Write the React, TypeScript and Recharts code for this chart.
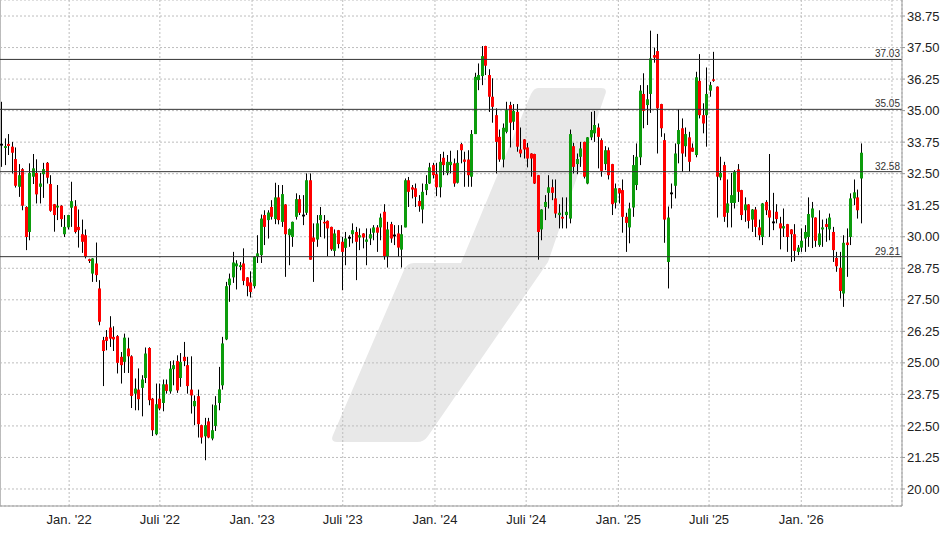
import React from 'react';
import { ComposedChart, Bar, XAxis, YAxis, CartesianGrid, ReferenceLine } from 'recharts';

// Weekly candles, first week dated 2021-08-20
const FIRST_WEEK = '2021-08-20';

const OPEN = [
  33.65, 33.52, 33.68, 33.57, 33.08, 31.98, 32.68, 31.18, 30.19, 32.38,
  32.53, 31.98, 32.48, 32.93, 32.09, 31.29, 31.16, 31.23, 30.10, 30.37,
  31.15, 31.21, 30.39, 30.10, 30.06, 29.11, 28.54, 28.94, 27.95, 25.90,
  26.03, 26.40, 26.03, 26.06, 25.24, 25.04, 25.57, 25.26, 23.78, 23.94,
  24.01, 24.40, 25.59, 23.58, 22.17, 23.58, 23.41, 24.15, 23.87, 24.75,
  25.07, 24.40, 25.24, 24.91, 23.94, 23.28, 23.68, 22.53, 22.09, 22.68,
  22.00, 22.50, 23.41, 24.11, 25.93, 28.08, 28.39, 28.83, 28.80, 28.94,
  28.39, 28.19, 28.04, 29.20, 29.27, 30.86, 30.66, 31.18, 30.70, 31.56,
  30.59, 31.28, 30.06, 29.99, 30.79, 31.49, 30.84, 30.95, 32.24, 29.97,
  29.89, 30.66, 30.59, 30.63, 30.39, 29.44, 30.26, 29.80, 29.56, 29.96,
  30.10, 30.19, 29.97, 30.13, 29.80, 29.93, 30.16, 30.37, 30.37, 30.99,
  29.23, 30.50, 30.05, 30.13, 29.49, 30.37, 32.24, 31.96, 31.92, 31.42,
  31.08, 31.85, 32.11, 32.84, 32.48, 31.96, 33.13, 32.53, 32.84, 32.91,
  32.14, 33.67, 33.06, 33.06, 32.38, 34.07, 36.21, 36.37, 37.56, 36.41,
  35.55, 34.82, 33.96, 33.06, 34.16, 35.22, 34.56, 34.95, 33.46, 33.86,
  33.54, 33.30, 33.28, 32.44, 30.29, 31.18, 31.74, 31.96, 31.52, 30.86,
  30.79, 30.86, 30.72, 33.59, 32.88, 33.17, 33.76, 32.11, 33.94, 34.10,
  34.33, 33.83, 32.88, 33.43, 32.88, 31.35, 31.92, 31.85, 30.79, 30.37,
  31.16, 32.05, 33.15, 35.66, 35.22, 35.66, 37.20, 37.36, 35.26, 33.83,
  29.00, 31.72, 32.02, 33.67, 34.30, 33.59, 33.94, 33.53, 33.24, 36.18,
  34.82, 34.82, 35.79, 36.24, 35.95, 32.35, 32.84, 30.95, 31.34, 31.34,
  32.67, 31.85, 31.05, 31.28, 30.68, 31.08, 30.37, 29.99, 31.38, 31.05,
  30.57, 30.99, 30.53, 30.33, 30.50, 30.29, 30.10, 29.40, 29.57, 29.93,
  29.99, 30.76, 30.76, 29.67, 30.29, 30.50, 30.29, 30.19, 29.16, 28.77,
  27.75, 29.77, 29.99, 31.52, 31.56, 32.31,
];

const HIGH = [
  35.35, 33.90, 34.07, 33.76, 33.54, 32.88, 32.72, 31.21, 32.91, 33.28,
  33.07, 32.53, 32.93, 32.96, 32.44, 31.30, 32.05, 31.25, 30.86, 30.87,
  32.18, 31.45, 31.08, 30.68, 30.29, 29.13, 29.15, 29.77, 28.28, 26.03,
  26.30, 26.85, 26.45, 26.10, 25.43, 26.16, 26.00, 25.30, 24.38, 24.78,
  24.51, 25.61, 25.62, 23.61, 24.18, 24.18, 24.34, 24.34, 25.07, 25.10,
  25.30, 25.39, 25.83, 25.24, 25.26, 23.71, 23.94, 22.55, 22.82, 22.82,
  23.35, 23.68, 24.84, 26.03, 28.21, 28.54, 29.40, 29.07, 29.00, 29.54,
  28.40, 28.63, 29.23, 30.06, 30.88, 31.05, 31.05, 31.45, 32.14, 32.05,
  32.05, 31.29, 30.33, 30.60, 31.72, 31.65, 31.65, 32.51, 32.51, 30.53,
  30.86, 31.18, 30.86, 30.65, 30.40, 30.29, 30.27, 29.99, 30.19, 30.06,
  30.53, 30.39, 30.33, 30.14, 30.33, 30.33, 30.46, 30.46, 30.92, 31.29,
  30.59, 30.59, 30.46, 30.46, 30.46, 32.31, 32.37, 32.05, 32.11, 31.65,
  32.11, 32.44, 32.93, 32.93, 32.93, 33.28, 33.37, 33.24, 33.41, 33.10,
  33.43, 33.72, 33.37, 33.43, 34.23, 36.50, 36.87, 37.56, 37.57, 36.64,
  36.28, 35.09, 34.25, 34.49, 35.35, 35.35, 35.26, 35.26, 34.33, 33.87,
  33.72, 33.31, 33.29, 32.45, 31.09, 31.65, 32.44, 32.27, 32.27, 31.29,
  31.56, 31.56, 34.25, 33.72, 33.30, 33.76, 33.77, 33.95, 34.95, 34.99,
  34.49, 33.90, 33.59, 33.54, 32.89, 32.11, 31.93, 32.27, 30.95, 31.35,
  33.24, 33.70, 36.01, 36.48, 36.01, 38.17, 37.50, 38.04, 35.27, 34.10,
  31.20, 32.11, 33.70, 35.05, 34.69, 34.33, 34.16, 33.70, 36.54, 37.24,
  35.29, 36.71, 36.14, 37.33, 35.96, 33.17, 32.97, 32.27, 32.53, 32.64,
  32.88, 31.86, 31.56, 31.29, 31.10, 31.18, 30.68, 31.34, 31.45, 33.28,
  31.74, 31.29, 30.79, 31.12, 30.51, 30.30, 30.50, 29.67, 30.33, 30.46,
  31.56, 31.38, 30.77, 31.05, 30.68, 30.72, 30.92, 30.39, 29.40, 29.40,
  30.06, 30.33, 31.72, 32.27, 31.87, 33.70,
];

const LOW = [
  32.77, 32.84, 33.24, 32.51, 31.95, 31.58, 31.05, 29.47, 29.86, 32.09,
  31.32, 31.32, 31.54, 32.11, 30.99, 30.20, 30.66, 30.39, 29.99, 30.29,
  30.39, 30.13, 29.57, 29.36, 29.14, 28.96, 28.21, 28.21, 26.49, 24.08,
  25.50, 25.63, 25.47, 24.58, 24.18, 24.60, 24.60, 23.21, 23.12, 23.12,
  22.88, 24.20, 23.32, 22.10, 22.13, 23.12, 23.08, 23.78, 23.78, 24.11,
  23.81, 24.05, 24.87, 23.78, 22.99, 22.53, 22.04, 21.80, 21.14, 22.01,
  21.93, 22.30, 23.12, 23.94, 25.90, 27.42, 28.17, 27.91, 28.67, 28.08,
  27.64, 27.59, 27.95, 28.96, 28.96, 29.67, 29.93, 30.68, 30.50, 30.49,
  30.39, 28.41, 28.87, 29.60, 30.68, 30.86, 30.46, 30.86, 29.09, 28.21,
  29.60, 29.99, 29.93, 29.23, 29.44, 29.23, 29.54, 27.88, 28.87, 29.60,
  29.74, 28.28, 29.47, 29.54, 28.87, 29.67, 29.86, 29.40, 29.86, 29.09,
  28.78, 29.76, 29.67, 29.20, 28.78, 30.37, 31.18, 31.52, 31.18, 30.99,
  30.53, 31.65, 32.09, 32.31, 31.61, 31.56, 32.44, 32.44, 32.51, 31.98,
  32.11, 32.91, 31.98, 31.98, 31.98, 34.07, 35.81, 36.01, 36.41, 34.95,
  34.52, 32.51, 32.97, 32.75, 34.10, 33.54, 34.23, 33.37, 33.15, 33.10,
  32.75, 32.38, 32.09, 29.09, 29.86, 30.66, 31.12, 31.45, 30.75, 30.33,
  30.33, 30.33, 30.53, 32.51, 32.48, 32.77, 32.31, 32.08, 33.83, 33.76,
  32.71, 32.38, 32.64, 32.27, 30.86, 31.12, 31.32, 30.16, 29.40, 29.74,
  30.79, 31.85, 32.84, 34.30, 34.43, 34.91, 36.90, 33.30, 33.96, 29.76,
  27.95, 31.12, 31.52, 32.91, 32.57, 33.17, 32.57, 33.37, 33.15, 34.69,
  34.10, 33.57, 35.55, 36.14, 30.76, 32.24, 30.59, 30.37, 30.37, 31.12,
  31.38, 30.66, 30.59, 30.33, 30.19, 29.99, 29.86, 29.67, 30.86, 29.99,
  30.26, 30.53, 29.50, 29.99, 29.40, 29.00, 29.04, 29.27, 29.40, 29.40,
  29.60, 29.55, 29.60, 29.60, 29.60, 29.80, 29.86, 29.00, 28.61, 27.55,
  27.22, 28.41, 29.67, 31.25, 30.72, 30.53,
];

const CLOSE = [
  33.65, 33.59, 33.60, 33.33, 32.02, 32.44, 31.23, 29.99, 32.53, 32.71,
  31.68, 32.11, 32.68, 32.34, 31.03, 30.86, 31.23, 30.70, 30.39, 30.86,
  31.41, 30.19, 30.26, 29.80, 29.20, 29.04, 29.14, 28.48, 26.63, 25.47,
  25.87, 25.96, 25.93, 25.00, 24.91, 26.00, 25.26, 23.69, 23.98, 23.56,
  24.34, 25.37, 23.52, 22.33, 23.36, 23.19, 24.15, 23.89, 24.77, 24.91,
  23.91, 25.04, 25.07, 24.08, 23.71, 23.49, 22.57, 22.04, 22.53, 22.04,
  22.33, 23.32, 23.95, 25.77, 28.04, 28.34, 28.98, 28.94, 28.87, 28.25,
  28.04, 27.81, 29.20, 29.34, 30.72, 30.39, 30.96, 30.79, 31.56, 30.66,
  31.69, 30.10, 30.30, 30.59, 31.49, 30.95, 30.84, 32.24, 29.09, 29.80,
  30.53, 30.86, 30.53, 30.33, 29.50, 30.13, 29.71, 29.40, 29.93, 29.96,
  30.26, 29.80, 30.06, 29.97, 29.89, 30.10, 30.37, 30.16, 30.76, 29.23,
  30.29, 29.93, 30.05, 29.57, 30.10, 32.24, 31.78, 31.87, 31.58, 31.21,
  31.78, 32.09, 32.75, 32.44, 31.96, 32.97, 32.84, 32.97, 32.97, 32.11,
  32.93, 33.43, 32.97, 32.44, 34.07, 36.34, 36.41, 37.16, 36.78, 35.55,
  35.15, 33.76, 33.06, 34.32, 35.02, 34.52, 34.99, 33.57, 33.30, 33.46,
  33.10, 33.10, 32.11, 30.19, 31.08, 31.38, 31.96, 31.74, 30.92, 30.95,
  30.72, 30.99, 34.07, 32.77, 33.08, 33.50, 32.38, 33.94, 34.23, 34.43,
  33.96, 32.61, 33.43, 32.44, 31.29, 31.92, 31.72, 30.79, 30.55, 31.12,
  32.84, 33.17, 35.79, 34.99, 35.45, 37.07, 37.10, 35.09, 34.30, 30.68,
  30.76, 31.72, 33.30, 34.23, 33.30, 34.07, 32.97, 33.37, 36.32, 34.82,
  34.49, 35.66, 36.01, 36.18, 32.38, 32.53, 30.79, 31.32, 31.65, 32.57,
  31.78, 30.86, 31.28, 30.63, 31.08, 30.39, 30.06, 31.32, 31.05, 30.76,
  30.57, 30.70, 30.33, 30.42, 29.99, 30.10, 29.44, 29.57, 29.84, 30.19,
  30.90, 31.12, 29.84, 30.13, 30.37, 30.39, 30.76, 29.47, 28.83, 27.85,
  29.76, 29.67, 31.52, 31.76, 31.05, 33.33,
];

const Y_TICKS = [20.0, 21.25, 22.5, 23.75, 25.0, 26.25, 27.5, 28.75, 30.0, 31.25, 32.5, 33.75, 35.0, 36.25, 37.5, 38.75];
const Y_DOMAIN: [number, number] = [19.326, 39.385];

const X_TICK_DATES = ['2022-01-01', '2022-07-01', '2023-01-01', '2023-07-01', '2024-01-01', '2024-07-01', '2025-01-01', '2025-07-01', '2026-01-01', '2026-07-01'];
const X_TICK_LABELS = ["Jan. '22", "Juli '22", "Jan. '23", "Juli '23", "Jan. '24", "Juli '24", "Jan. '25", "Juli '25", "Jan. '26", ''];
const X_RANGE_DATES = ['2021-08-16', '2026-07-21'];

const LEVELS = [37.03, 35.05, 32.58, 29.21];

const GREEN = '#0c9c0c';
const RED = '#ff0000';
const FONT = 'Arial, "Liberation Sans", Helvetica, sans-serif';

const dayOf = (s: string) => {
  const [y, m, d] = s.split('-').map(Number);
  return Date.UTC(y, m - 1, d) / 86400000;
};

const firstDay = dayOf(FIRST_WEEK);
const data = OPEN.map((o, i) => {
  const h = HIGH[i];
  const l = LOW[i];
  const c = CLOSE[i];
  return {
    t: firstDay + 7 * i,
    o,
    h: Math.max(h, o, c),
    l: Math.min(l, o, c),
    c,
    range: [Math.min(l, o, c), Math.max(h, o, c)],
  };
});

const xTicks = X_TICK_DATES.map(dayOf);
const xLabelMap: Record<number, string> = {};
xTicks.forEach((t, i) => {
  xLabelMap[t] = X_TICK_LABELS[i];
});
const xDomain: [number, number] = [dayOf(X_RANGE_DATES[0]), dayOf(X_RANGE_DATES[1])];

const Candle = (props: any) => {
  const { x, y, width, height, payload } = props;
  if (x == null || y == null || !payload) return null;
  const { o, h, l, c } = payload;
  const span = h - l;
  const per = span > 0 ? height / span : 0;
  const yOf = (v: number) => y + (h - v) * per;
  const center = x + width / 2;
  const left = Math.round(center - 1.5);
  const wickX = left + 1.5;
  let top = yOf(Math.max(o, c));
  let bot = yOf(Math.min(o, c));
  if (bot - top < 1.5) {
    const mid = (top + bot) / 2;
    top = mid - 0.9;
    bot = mid + 0.9;
  }
  const color = c > o ? GREEN : c < o ? RED : '#000000';
  return (
    <g>
      <line x1={wickX} x2={wickX} y1={y} y2={y + height} stroke="#000" strokeWidth={1} />
      <rect x={left} y={top} width={3} height={bot - top} fill={color} />
    </g>
  );
};

const Watermark = () => (
  <svg width={948} height={534} style={{ position: 'absolute', left: 0, top: 0 }}>
    <rect x={0} y={0} width={948} height={534} fill="#ffffff" />
    <path
      d="M 538 88 L 601 88 Q 608 88 605 95 L 548 262 L 428 436 Q 424 442 417 442 L 337 442 Q 330 442 333 435 L 404 270 Q 407 263 414 263 L 461 263 L 531 94 Q 534 88 538 88 Z"
      fill="#e8e8e8"
    />
    <line x1={0.5} x2={0.5} y1={0} y2={506} stroke="#bbbbbb" strokeWidth={1} />
  </svg>
);

export default function App() {
  return (
    <div style={{ position: 'absolute', left: 0, top: 0, width: 948, height: 534, fontFamily: FONT }}>
      <Watermark />
      <div style={{ position: 'absolute', left: 0, top: 0 }}>
        <ComposedChart width={948} height={534} data={data} margin={{ top: 0, right: 0, bottom: 0, left: 0 }} style={{ fontFamily: FONT }}>
          <CartesianGrid stroke="#bdbdbd" strokeDasharray="2 2" />
          <XAxis
            dataKey="t"
            type="number"
            domain={xDomain}
            ticks={xTicks}
            allowDataOverflow
            height={28}
            tickLine={false}
            tickSize={6}
            tickMargin={3}
            axisLine={{ stroke: '#999999' }}
            tick={{ fontSize: 13, fill: '#222222', fontFamily: FONT }}
            tickFormatter={(v: number) => xLabelMap[v] ?? ''}
            interval={0}
          />
          <YAxis
            orientation="right"
            type="number"
            domain={Y_DOMAIN}
            ticks={Y_TICKS}
            allowDataOverflow
            width={46}
            tickSize={3}
            tickMargin={2}
            axisLine={{ stroke: '#999999' }}
            tickLine={{ stroke: '#999999' }}
            tick={{ fontSize: 13, fill: '#222222', fontFamily: FONT, textAnchor: 'start' }}
            tickFormatter={(v: number) => v.toFixed(2)}
            interval={0}
          />
          <Bar dataKey="range" barSize={3} shape={<Candle />} isAnimationActive={false} />
          {LEVELS.map((lv) => (
            <ReferenceLine
              key={lv}
              y={lv}
              stroke="#333333"
              strokeWidth={1}
              label={{ value: lv.toFixed(2), position: 'insideBottomRight', offset: 2, fontSize: 10, fill: '#333333', fontFamily: FONT }}
            />
          ))}
        </ComposedChart>
      </div>
    </div>
  );
}
